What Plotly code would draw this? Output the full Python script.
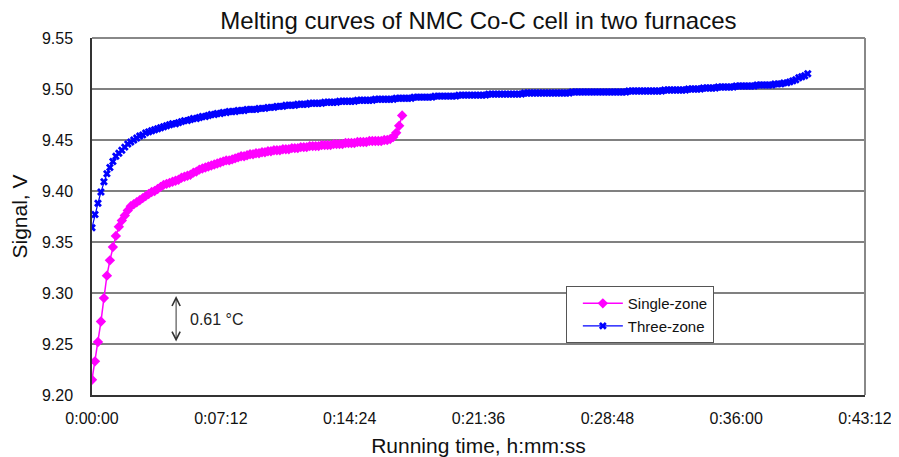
import plotly.graph_objects as go

SAMPLE_STEP_S = 10

single_zone_v = [
    9.215, 9.233, 9.252, 9.272, 9.295, 9.317, 9.332, 9.345, 9.356, 9.365,
    9.371, 9.376, 9.381, 9.385, 9.387, 9.389, 9.391, 9.393, 9.395, 9.397,
    9.399, 9.400, 9.402, 9.404, 9.406, 9.407, 9.408, 9.409, 9.410, 9.411,
    9.413, 9.414, 9.415, 9.416, 9.418, 9.419, 9.421, 9.422, 9.423, 9.424,
    9.425, 9.426, 9.427, 9.428, 9.429, 9.430, 9.430, 9.431, 9.432, 9.433,
    9.434, 9.434, 9.435, 9.436, 9.436, 9.437, 9.437, 9.438, 9.438, 9.439,
    9.439, 9.440, 9.440, 9.440, 9.441, 9.441, 9.441, 9.442, 9.442, 9.442,
    9.443, 9.443, 9.443, 9.444, 9.444, 9.444, 9.444, 9.445, 9.445, 9.445,
    9.445, 9.446, 9.446, 9.446, 9.446, 9.447, 9.447, 9.447, 9.447, 9.448,
    9.448, 9.448, 9.448, 9.449, 9.449, 9.449, 9.449, 9.449, 9.450, 9.450,
    9.451, 9.453, 9.457, 9.464, 9.474,
]

three_zone_v = [
    9.364, 9.377, 9.388, 9.399, 9.409, 9.417, 9.423, 9.429, 9.434, 9.437,
    9.440, 9.443, 9.446, 9.448, 9.450, 9.452, 9.454, 9.455, 9.457, 9.458,
    9.459, 9.460, 9.461, 9.462, 9.463, 9.464, 9.465, 9.466, 9.466, 9.467,
    9.468, 9.469, 9.469, 9.470, 9.471, 9.471, 9.472, 9.473, 9.473, 9.474,
    9.475, 9.475, 9.476, 9.476, 9.477, 9.477, 9.478, 9.478, 9.478, 9.479,
    9.479, 9.479, 9.480, 9.480, 9.480, 9.480, 9.481, 9.481, 9.481, 9.482,
    9.482, 9.482, 9.483, 9.483, 9.483, 9.484, 9.484, 9.484, 9.484, 9.485,
    9.485, 9.485, 9.485, 9.486, 9.486, 9.486, 9.486, 9.486, 9.487, 9.487,
    9.487, 9.487, 9.487, 9.488, 9.488, 9.488, 9.488, 9.488, 9.488, 9.489,
    9.489, 9.489, 9.489, 9.489, 9.489, 9.490, 9.490, 9.490, 9.490, 9.490,
    9.490, 9.490, 9.491, 9.491, 9.491, 9.491, 9.491, 9.491, 9.492, 9.492,
    9.492, 9.492, 9.492, 9.492, 9.492, 9.493, 9.493, 9.493, 9.493, 9.493,
    9.493, 9.493, 9.493, 9.494, 9.494, 9.494, 9.494, 9.494, 9.494, 9.494,
    9.494, 9.494, 9.494, 9.495, 9.495, 9.495, 9.495, 9.495, 9.495, 9.495,
    9.495, 9.495, 9.495, 9.495, 9.495, 9.496, 9.496, 9.496, 9.496, 9.496,
    9.496, 9.496, 9.496, 9.496, 9.496, 9.496, 9.496, 9.496, 9.496, 9.496,
    9.496, 9.497, 9.497, 9.497, 9.497, 9.497, 9.497, 9.497, 9.497, 9.497,
    9.497, 9.497, 9.497, 9.497, 9.497, 9.497, 9.497, 9.497, 9.497, 9.497,
    9.498, 9.498, 9.498, 9.498, 9.498, 9.498, 9.498, 9.498, 9.498, 9.498,
    9.498, 9.498, 9.499, 9.499, 9.499, 9.499, 9.499, 9.499, 9.499, 9.499,
    9.500, 9.500, 9.500, 9.500, 9.500, 9.501, 9.501, 9.501, 9.501, 9.501,
    9.502, 9.502, 9.502, 9.502, 9.502, 9.502, 9.503, 9.503, 9.503, 9.503,
    9.503, 9.503, 9.503, 9.504, 9.504, 9.504, 9.504, 9.504, 9.504, 9.505,
    9.505, 9.505, 9.506, 9.506, 9.507, 9.508, 9.509, 9.511, 9.512, 9.513,
    9.515,
]

single_zone_t = [i * SAMPLE_STEP_S for i in range(len(single_zone_v))]
three_zone_t = [i * SAMPLE_STEP_S for i in range(len(three_zone_v))]

x_tick_vals = [0, 432, 864, 1296, 1728, 2160, 2592]
x_tick_text = ["0:00:00", "0:07:12", "0:14:24", "0:21:36", "0:28:48", "0:36:00", "0:43:12"]
y_tick_vals = [9.20, 9.25, 9.30, 9.35, 9.40, 9.45, 9.50, 9.55]

delta_label = "0.61 °C"
delta_t = 282
delta_low, delta_high = 9.251, 9.297

FONT = "Liberation Sans, Arial, sans-serif"

# the page body has an 8 px default margin, so the figure is drawn 8 px in from the top-left
fig = go.Figure()
fig.add_trace(go.Scatter(
    x=single_zone_t, y=single_zone_v, name="Single-zone", mode="lines+markers",
    line=dict(color="#FF00FF", width=1.5),
    marker=dict(symbol="diamond", size=8, color="#FF00FF"),
))
fig.add_trace(go.Scatter(
    x=three_zone_t, y=three_zone_v, name="Three-zone", mode="lines+markers",
    line=dict(color="#0000FF", width=1.2),
    marker=dict(symbol="x", size=7, color="#0000FF"),
))

fig.add_annotation(
    x=delta_t, y=delta_high, ax=delta_t, ay=delta_low, xref="x", yref="y",
    axref="x", ayref="y", text="", showarrow=True, arrowside="end+start",
    arrowhead=5, arrowsize=1.6, arrowwidth=1, arrowcolor="#333333",
)
fig.add_annotation(
    x=delta_t + 40, y=(delta_low + delta_high) / 2, xref="x", yref="y",
    text=delta_label, showarrow=False, xanchor="left", yanchor="middle",
    font=dict(family=FONT, size=16, color="#222222"),
)

fig.update_layout(
    width=891, height=449,
    margin=dict(l=84, r=34, t=30, b=62, autoexpand=False),
    paper_bgcolor="white", plot_bgcolor="white",
    title=dict(text="Melting curves of NMC Co-C cell in two furnaces",
               x=0.528, xanchor="center", y=0.972, yanchor="middle",
               font=dict(family=FONT, size=24, color="#111111")),
    font=dict(family=FONT, color="#111111"),
    showlegend=True,
    legend=dict(x=0.613, y=0.305, xanchor="left", yanchor="top",
                bgcolor="white", bordercolor="#555555", borderwidth=1,
                font=dict(family=FONT, size=15, color="#111111"),
                itemwidth=40, tracegroupgap=2, indentation=11),
    shapes=[
        dict(type="line", xref="paper", yref="paper", x0=0, x1=1, y0=1, y1=1,
             line=dict(color="#888888", width=2)),
        dict(type="line", xref="paper", yref="paper", x0=1, x1=1, y0=0, y1=1,
             line=dict(color="#888888", width=2)),
    ],
)
fig.update_xaxes(
    range=[0, 2592], tickvals=x_tick_vals, ticktext=x_tick_text, automargin=False,
    showgrid=False, zeroline=False, showline=True, linecolor="#333333", linewidth=1.5,
    ticks="", ticklabelstandoff=8,
    tickfont=dict(family=FONT, size=16, color="#111111"),
    title=dict(text="Running time, h:mm:ss", standoff=12,
               font=dict(family=FONT, size=21, color="#111111")),
)
fig.update_yaxes(
    range=[9.20, 9.55], tickvals=y_tick_vals, tickformat=".2f", automargin=False,
    showgrid=True, gridcolor="#808080", gridwidth=1.5, zeroline=False,
    showline=True, linecolor="#333333", linewidth=1.5,
    ticks="", ticklabelstandoff=14,
    tickfont=dict(family=FONT, size=16, color="#111111"),
    title=dict(text="Signal, V", standoff=10,
               font=dict(family=FONT, size=21, color="#111111")),
)

fig.write_html("out.html")
